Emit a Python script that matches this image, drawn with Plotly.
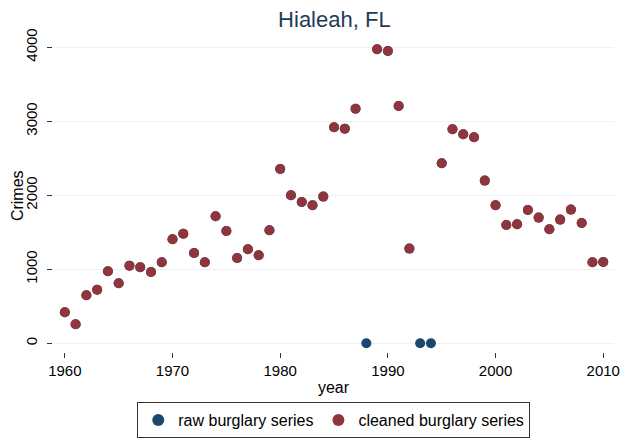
import plotly.graph_objects as go

years = list(range(1960, 2011))
cleaned = [419, 257, 649, 724, 973, 811, 1049, 1027, 964, 1095,
           1405, 1481, 1220, 1095, 1716, 1518, 1153, 1270, 1189, 1527,
           2355, 2000, 1909, 1865, 1982, 2919, 2900, 3170, None, 3973,
           3950, 3207, 1279, None, None, 2432, 2892, 2824, 2784, 2198,
           1865, 1599, 1608, 1801, 1698, 1541, 1671, 1806, 1626, 1095,
           1099]
raw = [419, 257, 649, 724, 973, 811, 1049, 1027, 964, 1095,
       1405, 1481, 1220, 1095, 1716, 1518, 1153, 1270, 1189, 1527,
       2355, 2000, 1909, 1865, 1982, 2919, 2900, 3170, 0, 3973,
       3950, 3207, 1279, 0, 0, 2432, 2892, 2824, 2784, 2198,
       1865, 1599, 1608, 1801, 1698, 1541, 1671, 1806, 1626, 1095,
       1099]
x_ticks = [1960, 1970, 1980, 1990, 2000, 2010]
y_ticks = [0, 1000, 2000, 3000, 4000]

FONT = "Liberation Sans, Arial, sans-serif"
fig = go.Figure()
fig.add_trace(go.Scatter(x=years, y=raw, mode="markers", name="raw burglary series",
                         marker=dict(color="#1a476f", size=10)))
fig.add_trace(go.Scatter(x=years, y=cleaned, mode="markers", name="cleaned burglary series",
                         marker=dict(color="#90353b", size=10)))

fig.update_layout(
    width=625, height=438,
    margin=dict(l=53, r=11, t=40, b=86, autoexpand=False),
    paper_bgcolor="white", plot_bgcolor="white",
    font=dict(family=FONT, size=15, color="black"),
    title=dict(text="Hialeah, FL", x=0.535, xref="container", xanchor="center",
               y=0.957, yref="container", yanchor="middle",
               font=dict(size=22, color="#1e3b5a", family=FONT)),
    showlegend=True,
    legend=dict(orientation="h", x=0.534, xref="container", xanchor="center",
                y=0.082, yref="container", yanchor="top",
                bordercolor="#333333", borderwidth=1, bgcolor="white",
                font=dict(size=16), itemsizing="constant",
                tracegroupgap=0, itemwidth=30),
    xaxis=dict(range=[1958.9, 2011.0], tickvals=x_ticks, showgrid=False, zeroline=False,
               ticks="outside", ticklen=5, tickcolor="#333333", showline=False,
               automargin=False, tickfont=dict(size=15),
               title=dict(text="year", standoff=3, font=dict(size=16))),
    yaxis=dict(range=[-118, 4098], tickvals=y_ticks, tickangle=-90,
               showgrid=True, gridcolor="#eaf2f3", gridwidth=1, zeroline=False,
               ticks="outside", ticklen=5, tickcolor="#333333", showline=False,
               automargin=False, tickfont=dict(size=15), ticklabelstandoff=4),
    annotations=[dict(text="Crimes", xref="paper", yref="paper", x=-0.064, y=0.5,
                      xanchor="center", yanchor="middle", textangle=-90,
                      showarrow=False, font=dict(size=16))],
)
fig.write_html("out.html", config={"displayModeBar": False},
               post_script="document.body.style.margin='0';document.body.style.overflow='hidden';")
